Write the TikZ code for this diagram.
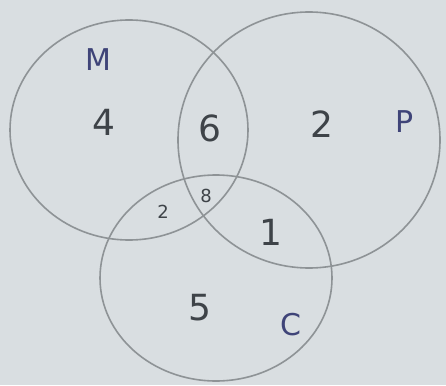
\documentclass[tikz,border=0pt]{standalone}
\usepackage{fontspec}
\setmainfont{DejaVu Sans}
\begin{document}
\begin{tikzpicture}[x=1pt,y=-1pt,
  ring/.style={draw=ringgray,line width=1.6pt},
  num/.style={text=numgray,font=\fontsize{36}{38}\selectfont},
  smallnum/.style={text=numgray,font=\fontsize{18}{20}\selectfont},
  setlabel/.style={text=labblue,font=\fontsize{30}{32}\selectfont}]
\definecolor{bg}{HTML}{D9DEE1}
\definecolor{ringgray}{HTML}{8E9396}
\definecolor{numgray}{HTML}{3E4348}
\definecolor{labblue}{HTML}{3F4478}
\fill[bg] (0,0) rectangle (446,385);
\useasboundingbox (0,0) rectangle (446,385);
\draw[ring] (129,130) ellipse [x radius=119, y radius=110];
\draw[ring] (309,140) ellipse [x radius=131, y radius=128];
\draw[ring] (216,278) ellipse [x radius=116, y radius=103];
\node[setlabel] (m) at (98,60) {M};
\node[setlabel] (p) at (405,122) {P};
\node[setlabel] (c) at (291,325) {C};
\node[num] (n4) at (104,122) {4};
\node[num] (n6) at (210,128) {6};
\node[num] (n2) at (322,124) {2};
\node[smallnum] (n2b) at (163,212) {2};
\node[smallnum] (n8) at (206,196) {8};
\node[num] (n1) at (271,232) {1};
\node[num] (n5) at (200,308) {5};
\end{tikzpicture}
\end{document}
